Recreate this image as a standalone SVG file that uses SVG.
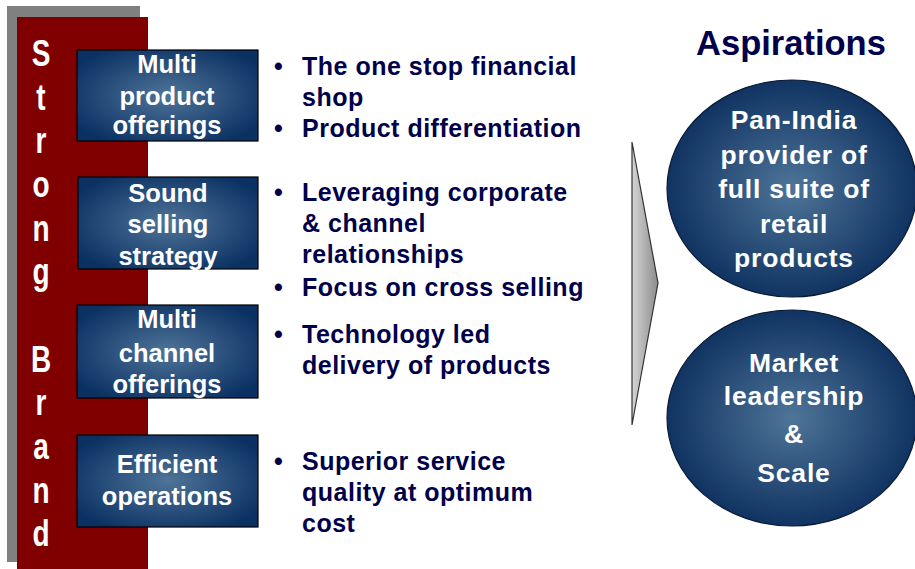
<svg xmlns="http://www.w3.org/2000/svg" width="915" height="569" viewBox="0 0 915 569">
<defs>
<radialGradient id="boxg" cx="50%" cy="50%" r="60%">
<stop offset="0" stop-color="#4f7499"/>
<stop offset="1" stop-color="#0b3163"/>
</radialGradient>
<radialGradient id="ellg" cx="50%" cy="50%" r="55%">
<stop offset="0" stop-color="#4f7599"/>
<stop offset="1" stop-color="#0a2d5c"/>
</radialGradient>
<linearGradient id="chev" x1="0" y1="0" x2="1" y2="0">
<stop offset="0" stop-color="#d4d4d4"/>
<stop offset="1" stop-color="#8c8c8c"/>
</linearGradient>
<style>
.box{fill:url(#boxg);stroke:#000;stroke-width:1.2}
.ell{fill:url(#ellg);stroke:#0a1a33;stroke-width:1.2}
.bt{font-family:"Liberation Sans",Arial,sans-serif;font-weight:bold;font-size:25.5px;fill:#fff;text-anchor:middle}
.et{font-family:"Liberation Sans",Arial,sans-serif;font-weight:bold;font-size:26.5px;letter-spacing:0.8px;fill:#fff;text-anchor:middle}
.tx{font-family:"Liberation Sans",Arial,sans-serif;font-weight:bold;font-size:25px;letter-spacing:0.5px;fill:#00004a}
.sb{font-family:"Liberation Sans",Arial,sans-serif;font-weight:bold;font-size:28px;fill:#fff;text-anchor:middle}
</style>
</defs>
<rect width="915" height="569" fill="#fff"/>
<g id="strong-brand">
<rect x="7" y="6" width="133" height="556" fill="#808080"/>
<rect x="17" y="17" width="131" height="560" fill="#800000"/>
<text class="sb" transform="translate(41,66) scale(1,1.35)">S</text>
<text class="sb" transform="translate(41,110) scale(1,1.35)">t</text>
<text class="sb" transform="translate(41,153) scale(1,1.35)">r</text>
<text class="sb" transform="translate(41,197) scale(1,1.35)">o</text>
<text class="sb" transform="translate(41,241) scale(1,1.35)">n</text>
<text class="sb" transform="translate(41,284) scale(1,1.35)">g</text>
<text class="sb" transform="translate(41,372) scale(1,1.35)">B</text>
<text class="sb" transform="translate(41,415) scale(1,1.35)">r</text>
<text class="sb" transform="translate(41,459) scale(1,1.35)">a</text>
<text class="sb" transform="translate(41,503) scale(1,1.35)">n</text>
<text class="sb" transform="translate(41,546) scale(1,1.35)">d</text>
</g>
<g id="box1">
<rect class="box" x="77" y="50" width="181" height="91"/>
<text class="bt" x="167" y="73">Multi</text>
<text class="bt" x="167" y="105">product</text>
<text class="bt" x="167" y="134">offerings</text>
</g>
<g id="box2">
<rect class="box" x="78" y="177" width="180" height="92"/>
<text class="bt" x="168" y="202">Sound</text>
<text class="bt" x="168" y="233">selling</text>
<text class="bt" x="168" y="265">strategy</text>
</g>
<g id="box3">
<rect class="box" x="77" y="305" width="181" height="93"/>
<text class="bt" x="167" y="328">Multi</text>
<text class="bt" x="167" y="362">channel</text>
<text class="bt" x="167" y="393">offerings</text>
</g>
<g id="box4">
<rect class="box" x="77" y="435" width="181" height="92"/>
<text class="bt" x="167" y="473">Efficient</text>
<text class="bt" x="167" y="505">operations</text>
</g>
<g id="bullets">
<text class="tx" x="274" y="75">•</text>
<text class="tx" x="302" y="75">The one stop financial</text>
<text class="tx" x="302" y="106">shop</text>
<text class="tx" x="274" y="137">•</text>
<text class="tx" x="302" y="137">Product differentiation</text>
<text class="tx" x="274" y="201">•</text>
<text class="tx" x="302" y="201">Leveraging corporate</text>
<text class="tx" x="302" y="232">&amp; channel</text>
<text class="tx" x="302" y="263">relationships</text>
<text class="tx" x="274" y="296">•</text>
<text class="tx" x="302" y="296">Focus on cross selling</text>
<text class="tx" x="274" y="343">•</text>
<text class="tx" x="302" y="343">Technology led</text>
<text class="tx" x="302" y="374">delivery of products</text>
<text class="tx" x="274" y="470">•</text>
<text class="tx" x="302" y="470">Superior service</text>
<text class="tx" x="302" y="501">quality at optimum</text>
<text class="tx" x="302" y="532">cost</text>
</g>
<g id="connectors">
<polygon points="632,142 658,283 632,425" fill="url(#chev)" stroke="#333" stroke-width="1.2"/>
</g>
<g id="aspirations-title">
<text x="791" y="55" font-family="Liberation Sans, Arial, sans-serif" font-weight="bold" font-size="34.5px" fill="#00004a" text-anchor="middle">Aspirations</text>
</g>
<g id="aspiration1">
<ellipse class="ell" cx="792" cy="188.5" rx="125" ry="108.5"/>
<text class="et" x="794" y="129">Pan-India</text>
<text class="et" x="794" y="163.5">provider of</text>
<text class="et" x="794" y="198">full suite of</text>
<text class="et" x="794" y="232.5">retail</text>
<text class="et" x="794" y="267">products</text>
</g>
<g id="aspiration2">
<ellipse class="ell" cx="792" cy="418" rx="125" ry="108"/>
<text class="et" x="794" y="372">Market</text>
<text class="et" x="794" y="405">leadership</text>
<text class="et" x="794" y="443">&amp;</text>
<text class="et" x="794" y="482">Scale</text>
</g>
</svg>
